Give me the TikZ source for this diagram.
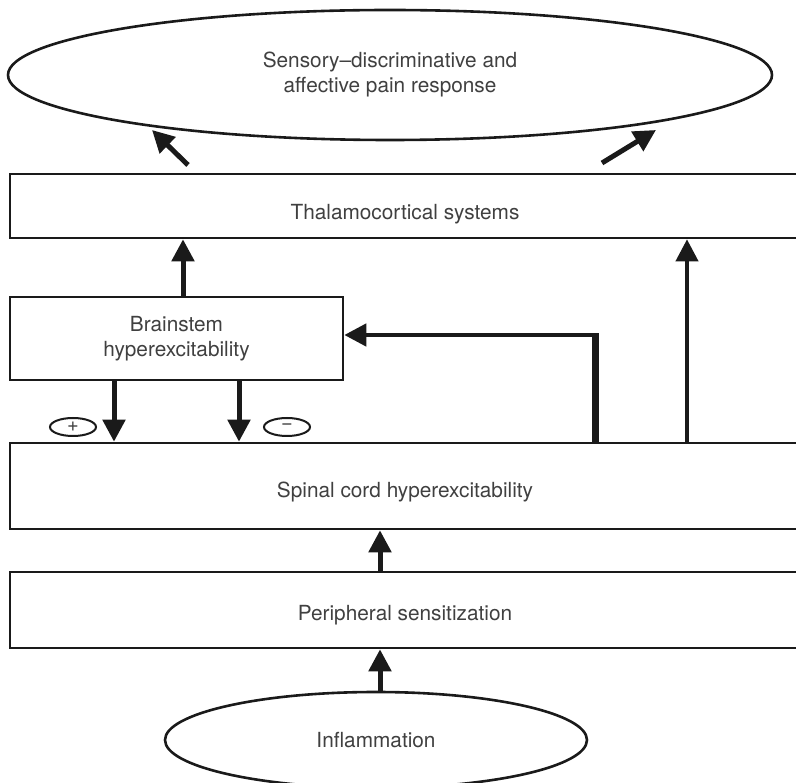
\documentclass[tikz,border=0pt]{standalone}
\usepackage{fontspec}
\setmainfont{TeX Gyre Heros}
\usetikzlibrary{arrows.meta,shapes.geometric,calc}
\definecolor{ink}{HTML}{1A1A1A}
\definecolor{txt}{HTML}{404040}
\newcommand{\lowered}[2]{\raisebox{-#1}[0pt][0pt]{#2}}
\begin{document}
\begin{tikzpicture}[x=1pt,y=-1pt,
  lbl/.style={text=txt,font=\fontsize{20.8}{25}\selectfont,align=center},
  box/.style={lbl,draw=ink,line width=2.6pt,rectangle,inner sep=0pt},
  oval/.style={lbl,draw=ink,line width=2.6pt,ellipse,inner sep=0pt},
  sign/.style={draw=ink,line width=2pt,ellipse,minimum width=46pt,minimum height=18pt,inner sep=0pt,text=txt,font=\fontsize{20}{20}\selectfont},
  arr/.style={draw=ink,line width=5pt,-{Triangle[length=22pt,width=22pt]}}]
\useasboundingbox (0,0) rectangle (796,783);
\clip (0,0) rectangle (796,783);
\fill[white] (0,0) rectangle (796,783);

\node[oval,minimum width=764pt,minimum height=130pt] (resp) at (390,75)
  {Sensory–discriminative and\\affective pain response};
\node[box,minimum width=790pt,minimum height=64pt] (thal) at (405,206) {\lowered{14pt}{Thalamocortical systems}};
\node[box,minimum width=333pt,minimum height=83pt] (brain) at (176.5,338.5) {Brainstem\\hyperexcitability};
\node[box,minimum width=790pt,minimum height=86pt] (spinal) at (405,486) {\lowered{12pt}{Spinal cord hyperexcitability}};
\node[box,minimum width=790pt,minimum height=76pt] (periph) at (405,610) {\lowered{10pt}{Peripheral sensitization}};
\node[oval,minimum width=422pt,minimum height=96pt] (infl) at (376,740) {Inflammation};
\node[sign] (plus) at (73,427) {+};
\node[sign] (minus) at (287,427) {−};

% thalamocortical -> response
\coordinate (la) at (188,165);
\coordinate (lb) at (152,130);
\coordinate (ra) at (602,163);
\coordinate (rb) at (656,130);
\draw[arr] (la) -- (lb);
\draw[arr] (ra) -- (rb);

% brainstem -> thalamocortical
\draw[arr] (183,0 |- brain.north) -- (183,0 |- thal.south);
% spinal -> thalamocortical
\draw[arr,line width=4pt] (687,0 |- spinal.north) -- (687,0 |- thal.south);
% spinal -> brainstem
\coordinate (corner) at (595,335);
\draw[ink,line width=7pt] (595,0 |- spinal.north) -- (595,333);
\draw[arr,line width=4.5pt] (corner) -- (brain.east |- corner);
% brainstem -> spinal
\draw[arr] (114,0 |- brain.south) -- (114,0 |- spinal.north);
\draw[arr] (239,0 |- brain.south) -- (239,0 |- spinal.north);
% peripheral -> spinal
\draw[arr] (380,0 |- periph.north) -- (380,0 |- spinal.south);
% inflammation -> peripheral
\draw[arr] (380,0 |- infl.north) -- (380,0 |- periph.south);
\end{tikzpicture}
\end{document}
